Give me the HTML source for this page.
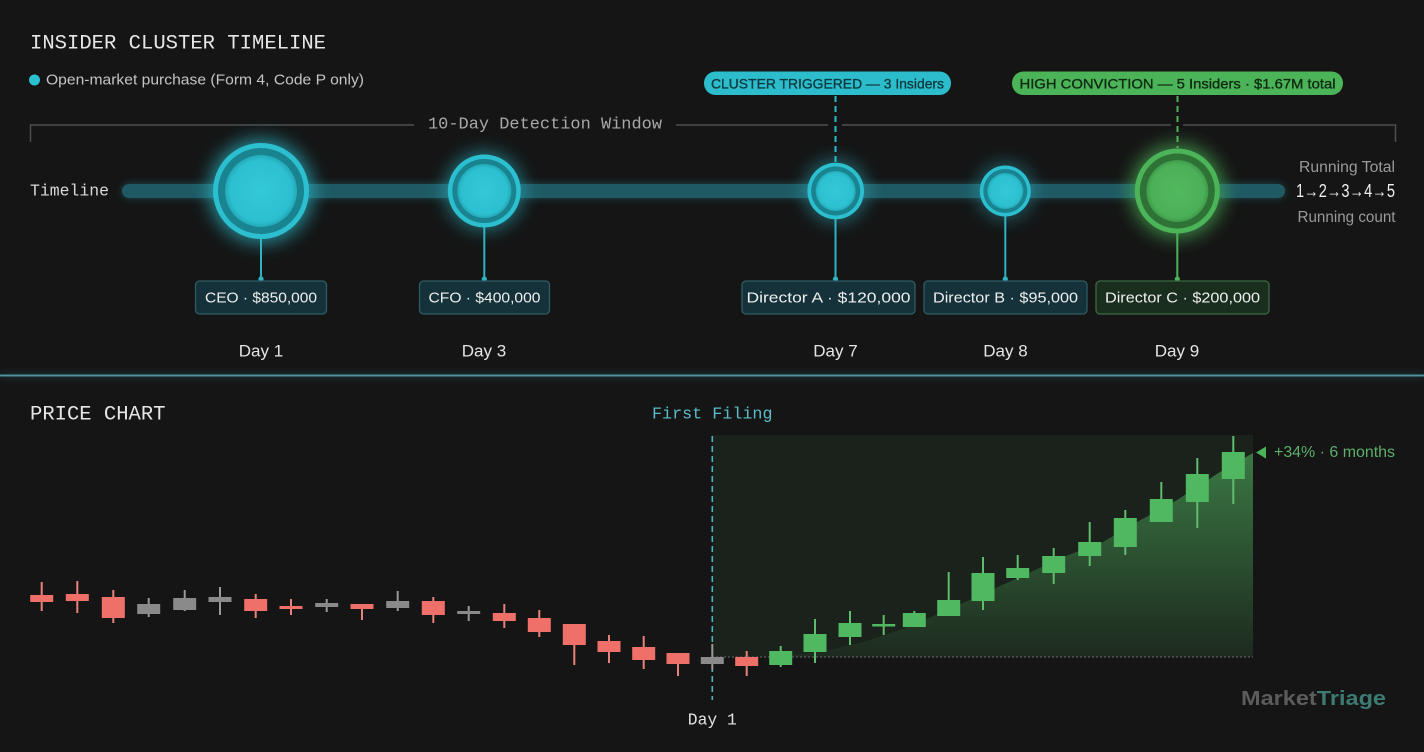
<!DOCTYPE html>
<html>
<head>
<meta charset="utf-8">
<style>
html,body{margin:0;padding:0;background:#151515;}
svg{display:block;}
.mono{font-family:"Liberation Mono",monospace;}
.sans{font-family:"Liberation Sans",sans-serif;}
</style>
</head>
<body>
<svg width="1424" height="752" viewBox="0 0 1424 752" xmlns="http://www.w3.org/2000/svg">
<defs>
  <filter id="glow" x="-80%" y="-80%" width="260%" height="260%">
    <feGaussianBlur stdDeviation="9"/>
  </filter>
  <filter id="glow2" x="-10%" y="-200%" width="120%" height="500%">
    <feGaussianBlur stdDeviation="4"/>
  </filter>
  <linearGradient id="area" x1="0" y1="450" x2="0" y2="657" gradientUnits="userSpaceOnUse">
    <stop offset="0" stop-color="#4fae5c" stop-opacity="0.62"/>
    <stop offset="1" stop-color="#4fae5c" stop-opacity="0.06"/>
  </linearGradient>
  <radialGradient id="cyanFill" cx="0.5" cy="0.5" r="0.5">
    <stop offset="0" stop-color="#33c9d9"/>
    <stop offset="0.85" stop-color="#2cc0d0"/>
    <stop offset="1" stop-color="#24a9b8"/>
  </radialGradient>
  <radialGradient id="greenFill" cx="0.5" cy="0.5" r="0.5">
    <stop offset="0" stop-color="#52b85e"/>
    <stop offset="0.85" stop-color="#4cb058"/>
    <stop offset="1" stop-color="#3f9a4a"/>
  </radialGradient>
</defs>

<rect x="0" y="0" width="1424" height="752" fill="#151515"/>

<!-- ===== TOP SECTION ===== -->
<text class="mono" x="30" y="44" dominant-baseline="central" font-size="20.5" fill="#e6e6e6" textLength="296" lengthAdjust="spacingAndGlyphs">INSIDER CLUSTER TIMELINE</text>

<circle cx="34.5" cy="80" r="5.5" fill="#2cc0d0"/>
<text class="sans" x="46" y="80" dominant-baseline="central" font-size="15" fill="#c4c4c4" textLength="318" lengthAdjust="spacingAndGlyphs">Open-market purchase (Form 4, Code P only)</text>

<!-- detection window bracket -->
<g stroke="#4e4e4e" stroke-width="1.5" fill="none">
  <path d="M30.5 142 V125 H414"/>
  <path d="M676 125 H828"/>
  <path d="M842 125 H1171"/>
  <path d="M1183 125 H1395.5 V142"/>
</g>
<text class="mono" x="428" y="125" dominant-baseline="central" font-size="17" fill="#a8a8a8" textLength="234" lengthAdjust="spacingAndGlyphs">10-Day Detection Window</text>

<!-- badges -->
<rect x="704" y="71.5" width="247" height="23.5" rx="11.5" fill="#2cbccc"/>
<text class="sans" x="827.5" y="83.5" dominant-baseline="central" text-anchor="middle" font-size="14" fill="#0d3a40" stroke="#0d3a40" stroke-width="0.35" textLength="233" lengthAdjust="spacingAndGlyphs">CLUSTER TRIGGERED — 3 Insiders</text>
<rect x="1012" y="71.5" width="331" height="23.5" rx="11.5" fill="#4cb458"/>
<text class="sans" x="1177.5" y="83.5" dominant-baseline="central" text-anchor="middle" font-size="14" fill="#0f2a12" stroke="#0f2a12" stroke-width="0.35" textLength="316" lengthAdjust="spacingAndGlyphs">HIGH CONVICTION — 5 Insiders · $1.67M total</text>

<!-- dashed connectors -->
<line x1="835.5" y1="96" x2="835.5" y2="162" stroke="#2cbccc" stroke-width="2" stroke-dasharray="6,4"/>
<line x1="1177.5" y1="96" x2="1177.5" y2="148" stroke="#4cb458" stroke-width="2" stroke-dasharray="6,4"/>

<!-- timeline label -->
<text class="mono" x="30" y="191" dominant-baseline="central" font-size="16.5" fill="#d8d8d8" textLength="79" lengthAdjust="spacingAndGlyphs">Timeline</text>

<!-- timeline bar -->
<rect x="122" y="184" width="1163" height="14" rx="7" fill="#2a8a96" opacity="0.45" filter="url(#glow2)"/>
<rect x="122" y="184" width="1163" height="14" rx="7" fill="#1f5a64"/>

<!-- stems -->
<g stroke="#2fb3c2" stroke-width="2">
  <line x1="261" y1="238" x2="261" y2="279"/>
  <line x1="484.3" y1="226" x2="484.3" y2="279"/>
  <line x1="835.5" y1="218" x2="835.5" y2="279"/>
  <line x1="1005.3" y1="215" x2="1005.3" y2="279"/>
</g>
<line x1="1177.3" y1="232" x2="1177.3" y2="279" stroke="#4cb458" stroke-width="2"/>
<g fill="#2fb3c2">
  <circle cx="261" cy="279" r="2.6"/>
  <circle cx="484.3" cy="279" r="2.6"/>
  <circle cx="835.5" cy="279" r="2.6"/>
  <circle cx="1005.3" cy="279" r="2.6"/>
</g>
<circle cx="1177.3" cy="279" r="2.6" fill="#4cb458"/>

<!-- nodes: glow -->
<g filter="url(#glow)" opacity="0.7">
  <circle cx="261" cy="191" r="52" fill="#2cc0d0"/>
  <circle cx="484.3" cy="191" r="39" fill="#2cc0d0" opacity="0.8"/>
  <circle cx="835.7" cy="191" r="31" fill="#2cc0d0" opacity="0.7"/>
  <circle cx="1005.3" cy="191" r="28" fill="#2cc0d0" opacity="0.6"/>
  <circle cx="1177.3" cy="191" r="47" fill="#4cb458"/>
</g>
<!-- CEO -->
<circle cx="261" cy="191" r="48" fill="#2cbfcf"/>
<circle cx="261" cy="191" r="43" fill="#1a8390"/>
<circle cx="261" cy="191" r="36" fill="url(#cyanFill)"/>
<!-- CFO -->
<circle cx="484.3" cy="191" r="36.5" fill="#2cbfcf"/>
<circle cx="484.3" cy="191" r="32" fill="#1a8390"/>
<circle cx="484.3" cy="191" r="27" fill="url(#cyanFill)"/>
<!-- Dir A -->
<circle cx="835.7" cy="191" r="28.3" fill="#2cbfcf"/>
<circle cx="835.7" cy="191" r="24.5" fill="#1a8390"/>
<circle cx="835.7" cy="191" r="20" fill="url(#cyanFill)"/>
<!-- Dir B -->
<circle cx="1005.3" cy="191" r="25.5" fill="#2cbfcf"/>
<circle cx="1005.3" cy="191" r="22" fill="#1a8390"/>
<circle cx="1005.3" cy="191" r="18" fill="url(#cyanFill)"/>
<!-- Dir C -->
<circle cx="1177.3" cy="191" r="42.5" fill="#4cb458"/>
<circle cx="1177.3" cy="191" r="37.5" fill="#2e7236"/>
<circle cx="1177.3" cy="191" r="31" fill="url(#greenFill)"/>

<!-- label boxes -->
<g stroke-width="1.3">
  <rect x="195.5" y="281" width="131" height="33" rx="4" fill="#15323a" stroke="#2e5c65"/>
  <rect x="419.5" y="281" width="130" height="33" rx="4" fill="#15323a" stroke="#2e5c65"/>
  <rect x="742" y="281" width="173" height="33" rx="4" fill="#15323a" stroke="#2e5c65"/>
  <rect x="924" y="281" width="163" height="33" rx="4" fill="#15323a" stroke="#2e5c65"/>
  <rect x="1096" y="281" width="173" height="33" rx="4" fill="#192e1d" stroke="#3a6a42"/>
</g>
<g class="sans" font-size="15" fill="#eeeeee" dominant-baseline="central" text-anchor="middle">
  <text x="261" y="298" textLength="112" lengthAdjust="spacingAndGlyphs">CEO · $850,000</text>
  <text x="484.5" y="298" textLength="112" lengthAdjust="spacingAndGlyphs">CFO · $400,000</text>
  <text x="828.5" y="298" textLength="164" lengthAdjust="spacingAndGlyphs">Director A · $120,000</text>
  <text x="1005.5" y="298" textLength="145" lengthAdjust="spacingAndGlyphs">Director B · $95,000</text>
  <text x="1182.5" y="298" textLength="155" lengthAdjust="spacingAndGlyphs">Director C · $200,000</text>
</g>

<!-- day labels -->
<g class="sans" font-size="17" fill="#e4e4e4" dominant-baseline="central" text-anchor="middle">
  <text x="261" y="351">Day 1</text>
  <text x="484" y="351">Day 3</text>
  <text x="835.5" y="351">Day 7</text>
  <text x="1005.5" y="351">Day 8</text>
  <text x="1177" y="351">Day 9</text>
</g>

<!-- running total -->
<g class="sans" dominant-baseline="central" text-anchor="end">
  <text x="1395" y="167.5" font-size="15.5" fill="#9a9a9a" textLength="96" lengthAdjust="spacingAndGlyphs">Running Total</text>
  <text x="1395" y="191" font-size="18" fill="#f0f0f0" textLength="99" lengthAdjust="spacingAndGlyphs">1→2→3→4→5</text>
  <text x="1395.5" y="217.5" font-size="15.5" fill="#9a9a9a" textLength="98" lengthAdjust="spacingAndGlyphs">Running count</text>
</g>

<!-- divider -->
<rect x="0" y="373" width="1424" height="5" fill="#2a6a74" opacity="0.35" filter="url(#glow2)"/>
<rect x="0" y="374.5" width="1424" height="2" fill="#4f929b"/>

<!-- ===== PRICE CHART ===== -->
<text class="mono" x="30" y="415" dominant-baseline="central" font-size="20.5" fill="#e6e6e6" textLength="135.5" lengthAdjust="spacingAndGlyphs">PRICE CHART</text>
<text class="mono" x="652" y="415" dominant-baseline="central" font-size="16.7" fill="#5bbcc8" textLength="120.5" lengthAdjust="spacingAndGlyphs">First Filing</text>

<!-- shaded region -->
<rect x="712" y="435" width="541" height="222" fill="#1a221b"/>
<polygon points="770,657 820,652 860,643 900,630 950,609 1000,586 1020,577 1063,557 1103,542 1137,522 1177,500 1220,472 1253,453 1253,657" fill="url(#area)"/>
<line x1="712" y1="657" x2="1253" y2="657" stroke="#5a5a5a" stroke-width="1.2" stroke-dasharray="2,2"/>

<!-- first filing dashed -->
<line x1="712.3" y1="436" x2="712.3" y2="700" stroke="#4fb3bf" stroke-width="1.6" stroke-dasharray="6,4"/>

<!-- candles -->
<g id="candles"></g>

<!-- +34% label -->
<polygon points="1256,452.5 1266,446.5 1266,458.5" fill="#4cb458"/>
<text class="sans" x="1274" y="452.5" dominant-baseline="central" font-size="15.5" fill="#5cae6a" textLength="121" lengthAdjust="spacingAndGlyphs">+34% · 6 months</text>

<text class="mono" x="712.3" y="720" dominant-baseline="central" text-anchor="middle" font-size="16.5" fill="#e4e4e4" textLength="49" lengthAdjust="spacingAndGlyphs">Day 1</text>

<!-- watermark -->
<text class="sans" x="1241" y="699" dominant-baseline="central" font-size="20" font-weight="bold" textLength="145" lengthAdjust="spacingAndGlyphs"><tspan fill="#5c5c5c">Market</tspan><tspan fill="#3d7a72">Triage</tspan></text>
</svg>

<script>
(function(){
  var R="#ef7068", Gy="#8a8a8a", Gn="#4fb860";
  var W={}; W[R]="#e9827b"; W[Gy]="#9a9a9a"; W[Gn]="#5fbd6e";
  var d=[
  [41.7,582,611,595,602,R],[77.3,581,613,594,601,R],[113.3,590,623,597,618,R],
  [148.7,598,617,604,614,Gy],[184.7,590,611,598,610,Gy],[220,587,615,597,602,Gy],
  [255.7,594,618,599,611,R],[291,599,615,606,609,R],[326.7,599,612,603,607,Gy],
  [362,604,620,604,609,R],[397.7,591,611,601,608,Gy],[433.3,597,623,601,615,R],
  [468.7,606,621,611,614,Gy],[504.3,604,628,613,621,R],[539.3,610,637,618,632,R],
  [574.3,624,665,624,645,R],[609,635,663,641,652,R],[643.7,636,669,647,660,R],
  [678,653,676,653,664,R],[712.3,644,670,657,664,Gy],[746.7,651,676,657,666,R],
  [780.7,646,667,651,665,Gn],[815,619,663,634,652,Gn],[850,611,645,623,637,Gn],
  [883.7,615,635,624,626.5,Gn],[914.3,611,627,613,627,Gn],[948.7,572,616,600,616,Gn],
  [983,557,610,573,601,Gn],[1017.7,555,580,568,578,Gn],[1053.7,548,584,556,573,Gn],
  [1089.7,522,566,542,556,Gn],[1125.3,510,555,518,547,Gn],[1161.3,482,522,499,522,Gn],
  [1197.3,458,528,474,502,Gn],[1233.3,436,504,452,479,Gn]
  ];
  var ns="http://www.w3.org/2000/svg", g=document.getElementById("candles");
  d.forEach(function(c){
    var l=document.createElementNS(ns,"line");
    l.setAttribute("x1",c[0]);l.setAttribute("x2",c[0]);
    l.setAttribute("y1",c[1]);l.setAttribute("y2",c[2]);
    l.setAttribute("stroke",W[c[5]]);l.setAttribute("stroke-width","2");
    g.appendChild(l);
    var r=document.createElementNS(ns,"rect");
    r.setAttribute("x",c[0]-11.5);r.setAttribute("width",23);
    r.setAttribute("y",c[3]);r.setAttribute("height",Math.max(2.5,c[4]-c[3]));
    r.setAttribute("fill",c[5]);
    g.appendChild(r);
  });
})();
</script>
</body>
</html>
